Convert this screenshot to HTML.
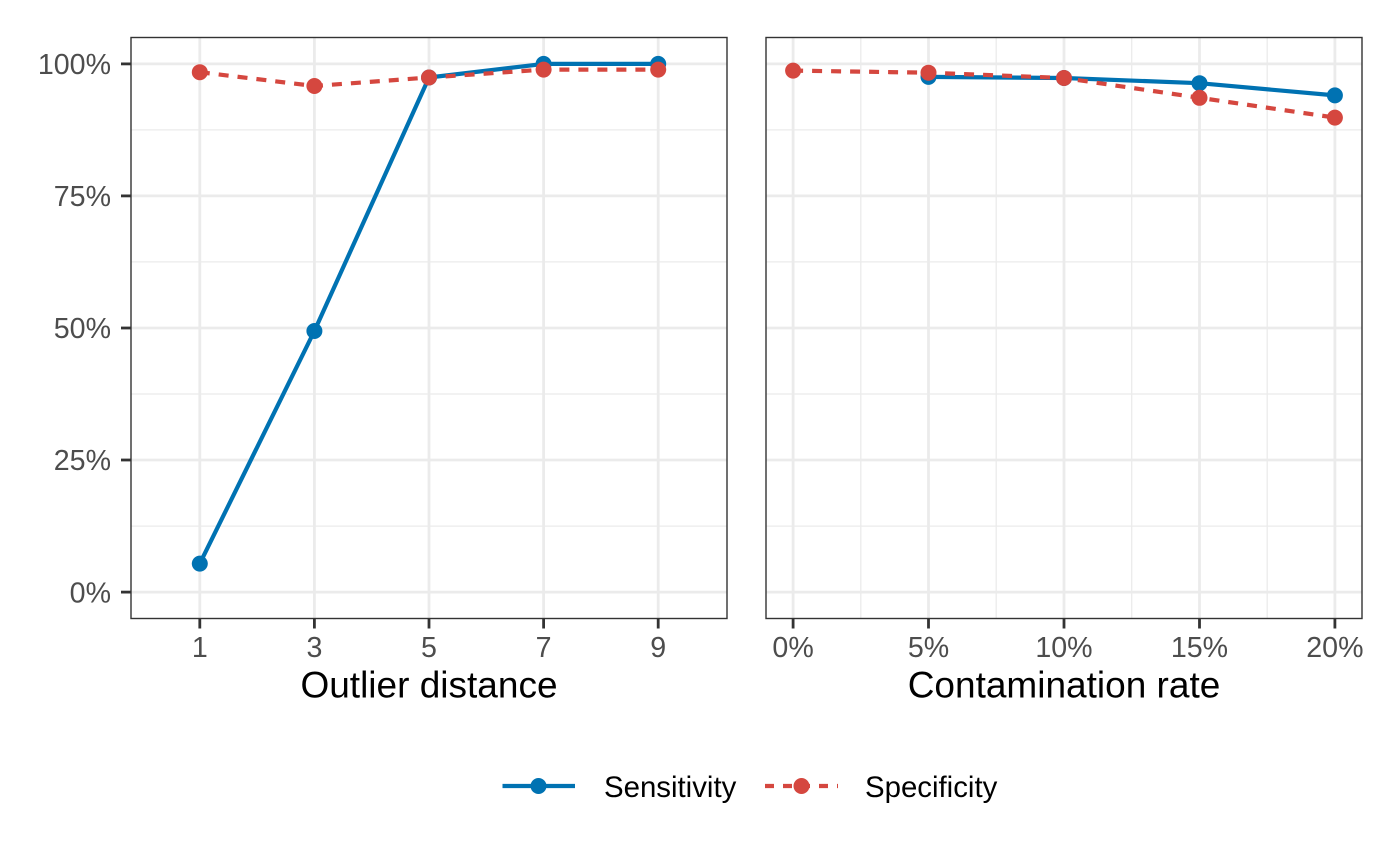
<!DOCTYPE html>
<html><head><meta charset="utf-8"><style>
html,body{margin:0;padding:0;background:#fff;}
svg{display:block;}
text{font-family:"Liberation Sans",Arial,sans-serif;}
</style></head><body>
<svg width="1400" height="865" viewBox="0 0 1400 865" xmlns="http://www.w3.org/2000/svg">
<rect width="1400" height="865" fill="#fff"/>
<!-- LEFT PANEL -->
<g>
<rect x="131" y="37.5" width="596" height="581" fill="#fff"/>
<g stroke="#EBEBEB" stroke-width="1.3">
<line x1="131" x2="727" y1="526.1" y2="526.1"/><line x1="131" x2="727" y1="394.0" y2="394.0"/>
<line x1="131" x2="727" y1="261.9" y2="261.9"/><line x1="131" x2="727" y1="129.9" y2="129.9"/>
</g>
<g stroke="#EBEBEB" stroke-width="2.8">
<line x1="131" x2="727" y1="592.1" y2="592.1"/><line x1="131" x2="727" y1="460.0" y2="460.0"/>
<line x1="131" x2="727" y1="328.0" y2="328.0"/><line x1="131" x2="727" y1="195.9" y2="195.9"/>
<line x1="131" x2="727" y1="63.9" y2="63.9"/>
<line x1="199.8" x2="199.8" y1="37.5" y2="618.5"/><line x1="314.4" x2="314.4" y1="37.5" y2="618.5"/>
<line x1="429" x2="429" y1="37.5" y2="618.5"/><line x1="543.6" x2="543.6" y1="37.5" y2="618.5"/>
<line x1="658.2" x2="658.2" y1="37.5" y2="618.5"/>
</g>
<polyline fill="none" stroke="#0072B2" stroke-width="4.2" stroke-linejoin="round" points="199.8,563.6 314.4,331 429,77.5 543.6,63.9 658.2,63.9"/>
<polyline fill="none" stroke="#D5473F" stroke-width="4.2" stroke-dasharray="10 9" points="199.8,72.2 314.4,86.0 429,77.5 543.6,69.6 658.2,69.6"/>
<g fill="#0072B2">
<circle cx="199.8" cy="563.6" r="8"/><circle cx="314.4" cy="331" r="8"/><circle cx="429" cy="77.5" r="8"/>
<circle cx="543.6" cy="63.9" r="8"/><circle cx="658.2" cy="63.9" r="8"/>
</g>
<g fill="#D5473F">
<circle cx="199.8" cy="72.2" r="8"/><circle cx="314.4" cy="86.0" r="8"/><circle cx="429" cy="77.5" r="8"/>
<circle cx="543.6" cy="69.6" r="8"/><circle cx="658.2" cy="69.6" r="8"/>
</g>
<rect x="131" y="37.5" width="596" height="581" fill="none" stroke="#333" stroke-width="1.4"/>
<g stroke="#333" stroke-width="2.8">
<line x1="121" x2="131" y1="592.1" y2="592.1"/><line x1="121" x2="131" y1="460.0" y2="460.0"/>
<line x1="121" x2="131" y1="328.0" y2="328.0"/><line x1="121" x2="131" y1="195.9" y2="195.9"/>
<line x1="121" x2="131" y1="63.9" y2="63.9"/>
<line x1="199.8" x2="199.8" y1="618.5" y2="628.5"/><line x1="314.4" x2="314.4" y1="618.5" y2="628.5"/>
<line x1="429" x2="429" y1="618.5" y2="628.5"/><line x1="543.6" x2="543.6" y1="618.5" y2="628.5"/>
<line x1="658.2" x2="658.2" y1="618.5" y2="628.5"/>
</g>
<g fill="#4D4D4D" font-size="28.6" text-anchor="end">
<text x="111" y="602.3">0%</text><text x="111" y="470.2">25%</text><text x="111" y="338.2">50%</text>
<text x="111" y="206.1">75%</text><text x="111" y="74.1">100%</text>
</g>
<g fill="#4D4D4D" font-size="28.6" text-anchor="middle">
<text x="199.8" y="657">1</text><text x="314.4" y="657">3</text><text x="429" y="657">5</text>
<text x="543.6" y="657">7</text><text x="658.2" y="657">9</text>
</g>
<text x="429" y="697.5" font-size="37" text-anchor="middle" fill="#000">Outlier distance</text>
</g>
<!-- RIGHT PANEL -->
<g>
<rect x="766" y="37.5" width="596" height="581" fill="#fff"/>
<g stroke="#EBEBEB" stroke-width="1.3">
<line x1="766" x2="1362" y1="526.1" y2="526.1"/><line x1="766" x2="1362" y1="394.0" y2="394.0"/>
<line x1="766" x2="1362" y1="261.9" y2="261.9"/><line x1="766" x2="1362" y1="129.9" y2="129.9"/>
<line x1="860.8" x2="860.8" y1="37.5" y2="618.5"/><line x1="996.2" x2="996.2" y1="37.5" y2="618.5"/>
<line x1="1131.7" x2="1131.7" y1="37.5" y2="618.5"/><line x1="1267.2" x2="1267.2" y1="37.5" y2="618.5"/>
</g>
<g stroke="#EBEBEB" stroke-width="2.8">
<line x1="766" x2="1362" y1="592.1" y2="592.1"/><line x1="766" x2="1362" y1="460.0" y2="460.0"/>
<line x1="766" x2="1362" y1="328.0" y2="328.0"/><line x1="766" x2="1362" y1="195.9" y2="195.9"/>
<line x1="766" x2="1362" y1="63.9" y2="63.9"/>
<line x1="793.1" x2="793.1" y1="37.5" y2="618.5"/><line x1="928.5" x2="928.5" y1="37.5" y2="618.5"/>
<line x1="1064" x2="1064" y1="37.5" y2="618.5"/><line x1="1199.5" x2="1199.5" y1="37.5" y2="618.5"/>
<line x1="1334.9" x2="1334.9" y1="37.5" y2="618.5"/>
</g>
<polyline fill="none" stroke="#0072B2" stroke-width="4.2" stroke-linejoin="round" points="928.5,76.9 1064,78.0 1199.5,83.2 1334.9,95.4"/>
<polyline fill="none" stroke="#D5473F" stroke-width="4.2" stroke-dasharray="10 9" points="793.1,70.6 928.5,72.7 1064,78.0 1199.5,97.8 1334.9,117.6"/>
<g fill="#0072B2">
<circle cx="928.5" cy="76.9" r="8"/><circle cx="1064" cy="78.0" r="8"/>
<circle cx="1199.5" cy="83.2" r="8"/><circle cx="1334.9" cy="95.4" r="8"/>
</g>
<g fill="#D5473F">
<circle cx="793.1" cy="70.6" r="8"/><circle cx="928.5" cy="72.7" r="8"/><circle cx="1064" cy="78.0" r="8"/>
<circle cx="1199.5" cy="97.8" r="8"/><circle cx="1334.9" cy="117.6" r="8"/>
</g>
<rect x="766" y="37.5" width="596" height="581" fill="none" stroke="#333" stroke-width="1.4"/>
<g stroke="#333" stroke-width="2.8">
<line x1="793.1" x2="793.1" y1="618.5" y2="628.5"/><line x1="928.5" x2="928.5" y1="618.5" y2="628.5"/>
<line x1="1064" x2="1064" y1="618.5" y2="628.5"/><line x1="1199.5" x2="1199.5" y1="618.5" y2="628.5"/>
<line x1="1334.9" x2="1334.9" y1="618.5" y2="628.5"/>
</g>
<g fill="#4D4D4D" font-size="28.6" text-anchor="middle">
<text x="793.1" y="657">0%</text><text x="928.5" y="657">5%</text><text x="1064" y="657">10%</text>
<text x="1199.5" y="657">15%</text><text x="1334.9" y="657">20%</text>
</g>
<text x="1064" y="697.5" font-size="37" text-anchor="middle" fill="#000">Contamination rate</text>
</g>
<!-- LEGEND -->
<g>
<line x1="502.5" x2="575" y1="786" y2="786" stroke="#0072B2" stroke-width="4.2"/>
<circle cx="538.5" cy="786" r="8" fill="#0072B2"/>
<text x="604" y="797" font-size="29.4" fill="#000">Sensitivity</text>
<line x1="765" x2="838" y1="786" y2="786" stroke="#D5473F" stroke-width="4.2" stroke-dasharray="9 9"/>
<circle cx="801.5" cy="786" r="8" fill="#D5473F"/>
<text x="865" y="797" font-size="29.4" fill="#000">Specificity</text>
</g>
</svg>
</body></html>
